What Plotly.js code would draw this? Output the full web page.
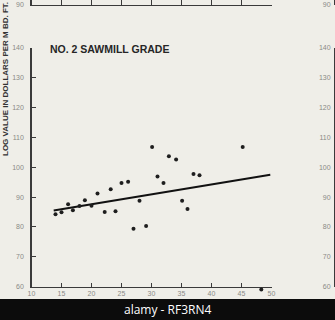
<!DOCTYPE html>
<html>
<head>
<meta charset="utf-8">
<script src="https://cdn.plot.ly/plotly-3.0.1.min.js"></script>
<style>
  html, body { margin: 0; padding: 0; background: #efeee8; }
  #chart { width: 335px; height: 320px; }
</style>
</head>
<body>
<div id="chart"></div>
<script>
// Scatter points: log diameter (x) vs log value in dollars per M bd. ft. (y)
const diameters = [14.0, 15.0, 16.1, 16.9, 18.0, 18.9, 20.0, 21.0, 22.2, 23.2, 24.0, 25.0, 26.1, 27.0, 28.0, 29.1, 30.1, 31.0, 32.0, 32.9, 34.1, 35.1, 36.0, 37.0, 38.0, 45.2, 48.3];
const logValues = [84.2, 84.9, 87.6, 85.6, 87.0, 88.9, 87.1, 91.2, 85.0, 92.6, 85.2, 94.7, 95.1, 79.4, 88.8, 80.3, 106.8, 96.9, 94.7, 103.7, 102.6, 88.8, 86.0, 97.7, 97.3, 106.8, 59.0];
// Fitted line end points
const trendX = [13.7, 49.8];
const trendY = [85.5, 97.5];
// Tick labels
const xTicks = [10, 15, 20, 25, 30, 35, 40, 45, 50];
const yTicks = [60, 70, 80, 90, 100, 110, 120, 130, 140];
const topPanelTicks = [90];
const titleText = "NO. 2 SAWMILL GRADE";
const yLabelText = "LOG VALUE IN DOLLARS PER M BD. FT.";
const bandText = "alamy - RF3RN4";

const W = 335, H = 320;
const px = v => v / W;
const py = v => 1 - v / H;

// vertical scale geometry (pixels)
const yBottomPx = 286.5, yTopPx = 48;
const pxPerUnit = (yBottomPx - yTopPx) / 80;
const padPx = 6;

const tickFont = { family: "Liberation Sans, Arial, sans-serif", size: 7, color: "#8a8a86" };
const axisCol = "#3a3a3a";

const traces = [
  {
    x: trendX, y: trendY, type: "scatter", mode: "lines",
    line: { color: "#111", width: 2 },
    hoverinfo: "skip", xaxis: "x", yaxis: "y"
  },
  {
    x: diameters, y: logValues, type: "scatter", mode: "markers",
    marker: { size: 4, color: "#1e1e1e" },
    cliponaxis: false, hoverinfo: "skip", xaxis: "x", yaxis: "y5"
  },
  // invisible helpers so the extra axes render
  { x: [10], y: [100], type: "scatter", mode: "markers", marker: { opacity: 0 }, xaxis: "x", yaxis: "y2", hoverinfo: "skip" },
  { x: [10], y: [140], type: "scatter", mode: "markers", marker: { opacity: 0 }, xaxis: "x2", yaxis: "y3", hoverinfo: "skip" },
  { x: [10], y: [140], type: "scatter", mode: "markers", marker: { opacity: 0 }, xaxis: "x2", yaxis: "y4", hoverinfo: "skip" }
];

const layout = {
  width: W, height: H,
  margin: { l: 0, r: 0, t: 0, b: 0 },
  paper_bgcolor: "#efeee8",
  plot_bgcolor: "rgba(0,0,0,0)",
  showlegend: false,
  xaxis: {
    domain: [px(31.5), px(271.5)], range: [10, 50], anchor: "y",
    tickvals: xTicks, ticktext: xTicks.map(String),
    ticks: "inside", ticklen: 4, tickcolor: axisCol, tickwidth: 1,
    showline: true, linecolor: axisCol, linewidth: 1.2,
    showgrid: false, zeroline: false, tickfont: tickFont
  },
  yaxis: {
    domain: [py(yBottomPx), py(yTopPx)], range: [60, 140], anchor: "x",
    tickvals: yTicks, ticktext: yTicks.map(String),
    ticks: "inside", ticklen: 4, tickcolor: axisCol, tickwidth: 1,
    showline: true, linecolor: axisCol, linewidth: 1.2,
    showgrid: false, zeroline: false, tickfont: tickFont,
    ticklabelstandoff: 5
  },
  yaxis5: {
    domain: [py(yBottomPx + padPx), py(yTopPx)], range: [60 - padPx / pxPerUnit, 140],
    anchor: "x", visible: false, showgrid: false, zeroline: false
  },
  yaxis2: {
    overlaying: "y", anchor: "free", position: px(334), side: "left",
    range: [60, 140], tickvals: yTicks, ticktext: yTicks.map(String),
    ticks: "inside", ticklen: 4, tickcolor: axisCol,
    showline: true, linecolor: axisCol, linewidth: 1.2,
    showgrid: false, zeroline: false, tickfont: tickFont,
    ticklabelstandoff: 2
  },
  xaxis2: {
    domain: [px(31.5), px(271.5)], range: [10, 50], anchor: "y3",
    tickvals: xTicks, showticklabels: false,
    ticks: "inside", ticklen: 6, tickcolor: axisCol,
    showline: true, linecolor: axisCol, linewidth: 1.2,
    showgrid: false, zeroline: false
  },
  yaxis3: {
    domain: [py(5), 1], range: [90, 150], anchor: "x2",
    tickvals: topPanelTicks, ticktext: topPanelTicks.map(String),
    ticks: "", showline: true, linecolor: axisCol, linewidth: 1.2,
    showgrid: false, zeroline: false, tickfont: tickFont,
    ticklabelstandoff: 5
  },
  yaxis4: {
    overlaying: "y3", anchor: "free", position: px(334), side: "left",
    range: [90, 150], tickvals: topPanelTicks, ticktext: topPanelTicks.map(String),
    ticks: "", showline: true, linecolor: axisCol, linewidth: 1.2,
    showgrid: false, zeroline: false, tickfont: tickFont,
    ticklabelstandoff: 2
  },
  shapes: [
    { type: "rect", xref: "paper", yref: "paper", x0: 0, x1: 1, y0: 0, y1: py(299),
      fillcolor: "#0c0c0c", line: { width: 0 }, layer: "above" }
  ],
  annotations: [
    { text: "<b>" + titleText + "</b>", xref: "paper", yref: "paper",
      x: px(48), y: py(49), xanchor: "left", yanchor: "middle", showarrow: false,
      font: { family: "Liberation Sans, Arial, sans-serif", size: 10.5, color: "#262626" } },
    { text: "<b>" + yLabelText + "</b>", xref: "paper", yref: "paper",
      x: px(6), y: py(79), xanchor: "center", yanchor: "middle", showarrow: false,
      textangle: -90,
      font: { family: "Liberation Sans, Arial, sans-serif", size: 8, color: "#333" } },
    { text: bandText, xref: "paper", yref: "paper",
      x: px(167), y: py(309.5), xanchor: "center", yanchor: "middle", showarrow: false,
      font: { family: "Open Sans, sans-serif", size: 12, color: "#ffffff" } }
  ]
};

Plotly.newPlot("chart", traces, layout, { staticPlot: true, displayModeBar: false });
</script>
</body>
</html>
